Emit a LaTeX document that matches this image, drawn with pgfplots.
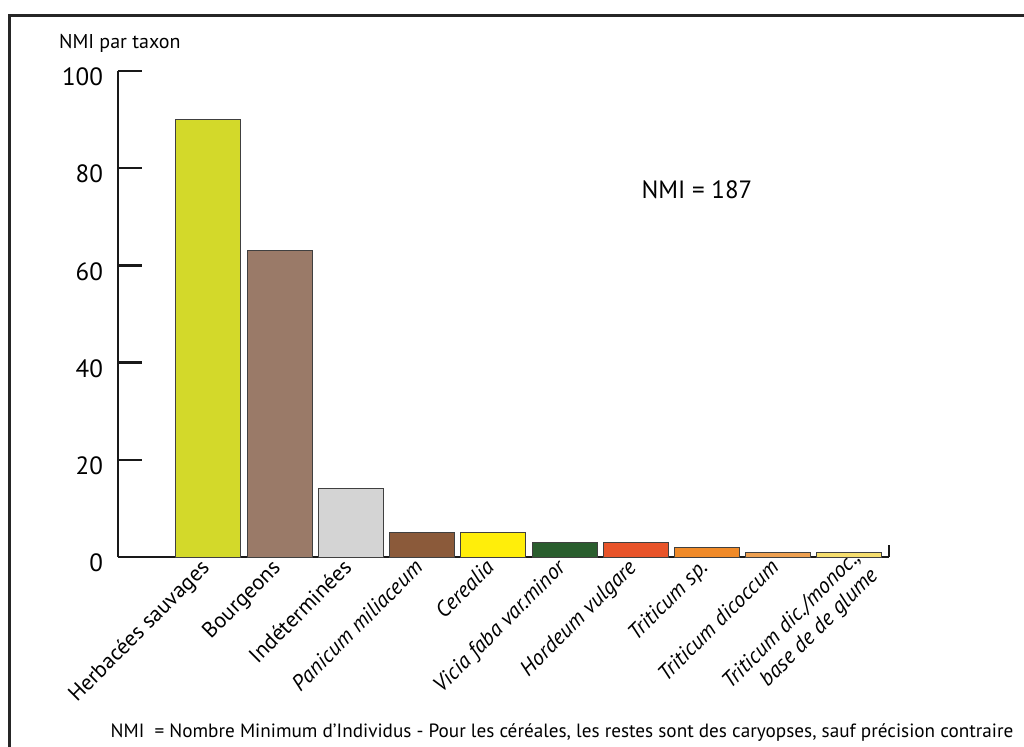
\documentclass[border=0pt]{standalone}
\usepackage{pgfplots}
\pgfplotsset{compat=1.18}
\usepackage{fontspec}
\setmainfont{PT Sans}
\definecolor{c1}{RGB}{211,217,42}
\definecolor{c2}{RGB}{154,122,104}
\definecolor{c3}{RGB}{212,212,212}
\definecolor{c4}{RGB}{139,90,58}
\definecolor{c5}{RGB}{255,238,10}
\definecolor{c6}{RGB}{42,94,46}
\definecolor{c7}{RGB}{232,84,42}
\definecolor{c8}{RGB}{240,138,40}
\definecolor{c9}{RGB}{238,160,80}
\definecolor{c10}{RGB}{246,222,110}
\begin{document}
\begin{tikzpicture}
\useasboundingbox (-59pt,-94.5pt) rectangle (453pt,278.5pt);
\draw[line width=1.5pt,black!85] (-54pt,-100pt) -- (-54pt,271pt) -- (460pt,271pt);
\begin{axis}[
  at={(0pt,0pt)}, anchor=south west,
  scale only axis, width=385.5pt, height=243pt,
  xmin=-1.271, xmax=9.557, ymin=0, ymax=100,
  axis x line=bottom, axis y line=left,
  axis line style={line width=1.2pt, black!90, -},
  ytick={20,40,60,80,100},
  extra y ticks={0}, extra y tick style={major tick length=0pt},
  yticklabel style={font=\fontsize{12.5}{14}\selectfont, xshift=-4pt, yshift=-3pt},
  /pgf/number format/assume math mode=true,
  major tick length=12pt,
  y tick style={line width=1.2pt, black!90},
  tick align=inside,
  xtick={0,...,9},
  x tick style={draw=none},
  xticklabels={Herbacées sauvages, Bourgeons, Indéterminées, \itshape Panicum miliaceum, \itshape Cerealia, \itshape Vicia faba var.minor, \itshape Hordeum vulgare, \itshape Triticum sp., \itshape Triticum dicoccum, {\itshape Triticum dic./monoc.,\kern-7pt\\\itshape base de de glume\kern-7pt}},
  xticklabel style={rotate=45, anchor=north east, font=\fontsize{11}{12.5}\selectfont, align=right, xshift=8.4pt, yshift=14.9pt},
  clip=false,
  ybar, bar width=32.5pt, bar shift=0pt,
]
\addplot[fill=c1, draw=black!75, line width=0.5pt] coordinates {(0,90)};
\addplot[fill=c2, draw=black!75, line width=0.5pt] coordinates {(1,63)};
\addplot[fill=c3, draw=black!75, line width=0.5pt] coordinates {(2,14)};
\addplot[fill=c4, draw=black!75, line width=0.5pt] coordinates {(3,5)};
\addplot[fill=c5, draw=black!75, line width=0.5pt] coordinates {(4,5)};
\addplot[fill=c6, draw=black!75, line width=0.5pt] coordinates {(5,3)};
\addplot[fill=c7, draw=black!75, line width=0.5pt] coordinates {(6,3)};
\addplot[fill=c8, draw=black!75, line width=0.5pt] coordinates {(7,2)};
\addplot[fill=c9, draw=black!75, line width=0.5pt] coordinates {(8,1)};
\addplot[fill=c10, draw=black!75, line width=0.5pt] coordinates {(9,1)};
\draw[line width=1.2pt, black!90] (axis cs:9.557,0) -- (axis cs:9.557,2.5);
\node[font=\fontsize{12.5}{14}\selectfont] at (axis cs:6.86,75.5) {NMI = 187};
\end{axis}
\node[font=\fontsize{10}{12}\selectfont, anchor=west] at (-33pt,257pt) {NMI par taxon};
\node[font=\fontsize{9.6}{12}\selectfont] at (222pt,-88pt) {NMI \ = Nombre Minimum d’Individus - Pour les céréales, les restes sont des caryopses, sauf précision contraire};
\end{tikzpicture}
\end{document}
